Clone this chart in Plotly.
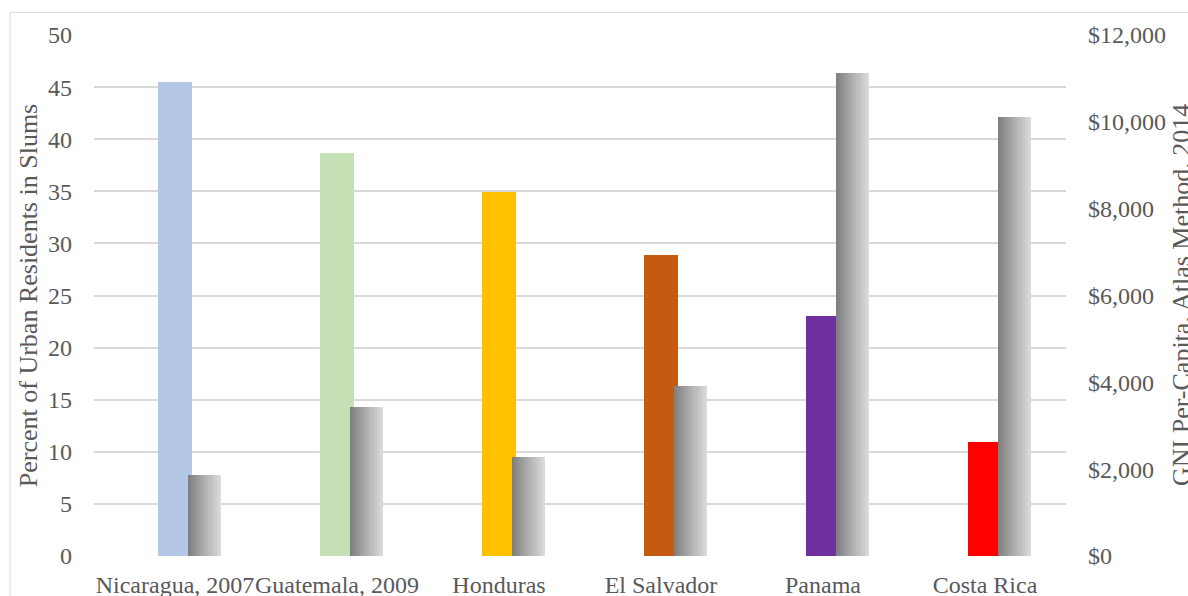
import plotly.graph_objects as go

categories = ["Nicaragua, 2007", "Guatemala, 2009", "Honduras", "El Salvador", "Panama", "Costa Rica"]
slum_pct = [45.5, 38.7, 34.9, 28.9, 23.0, 10.9]
gni_per_capita = [1870, 3430, 2270, 3920, 11130, 10120]
bar_colors = ["#B4C7E7", "#C5E0B4", "#FFC000", "#C55A11", "#7030A0", "#FF0000"]
left_ticks = [0, 5, 10, 15, 20, 25, 30, 35, 40, 45, 50]
right_ticks = [0, 2000, 4000, 6000, 8000, 10000, 12000]
right_ticktext = [f"${v:,}" for v in right_ticks]

FONT = "Liberation Serif, Times New Roman, serif"
TXT = "#595959"
TICK_SIZE = 24
TITLE_SIZE = 26

fig = go.Figure()

# coloured bars (primary axis)
fig.add_trace(go.Bar(
    x=categories, y=slum_pct, yaxis="y",
    marker=dict(color=bar_colors, line=dict(width=0)),
    offset=-0.108, width=0.215, showlegend=False,
))

# gray gradient bars (secondary axis) built from narrow slices
n = 16
g_off, g_w = 0.083, 0.198
c0, c1 = 128, 218
for j in range(n):
    t = j / (n - 1)
    v = int(round(c0 + (c1 - c0) * t))
    fig.add_trace(go.Bar(
        x=categories, y=gni_per_capita, yaxis="y2",
        marker=dict(color=f"rgb({v},{v},{v})", line=dict(width=0)),
        offset=g_off + j * g_w / n, width=g_w / n + 0.002, showlegend=False,
    ))

fig.update_layout(
    template="none",
    width=1188, height=596,
    margin=dict(l=94, r=122, t=35, b=40, pad=0),
    paper_bgcolor="white", plot_bgcolor="white",
    barmode="overlay", bargap=0,
    font=dict(family=FONT, color=TXT, size=TICK_SIZE),
    xaxis=dict(
        type="category", range=[-0.5, 5.5], showgrid=False, automargin=False,
        showline=False, zeroline=False, ticks="", tickangle=0,
        tickfont=dict(family=FONT, size=TICK_SIZE, color=TXT),
        ticklabelstandoff=12,
    ),
    yaxis=dict(
        range=[0, 50], tickvals=left_ticks, showgrid=True, automargin=False,
        gridcolor="#D9D9D9", gridwidth=1.5, zeroline=False, showline=False,
        ticks="", tickfont=dict(family=FONT, size=TICK_SIZE, color=TXT),
        ticklabelstandoff=21,
        title=dict(text="Percent of Urban Residents in Slums",
                   font=dict(family=FONT, size=TITLE_SIZE, color=TXT), standoff=2),
    ),
    yaxis2=dict(
        range=[0, 12000], tickvals=right_ticks, ticktext=right_ticktext,
        overlaying="y", side="right", automargin=False,
        showgrid=False, zeroline=False, showline=False, ticks="",
        tickfont=dict(family=FONT, size=TICK_SIZE, color=TXT),
        ticklabelstandoff=21,
    ),
    annotations=[dict(
        text="GNI Per-Capita, Atlas Method, 2014", textangle=-90,
        xref="paper", yref="paper", x=(1165 - 94) / 972, y=0.5,
        xanchor="left", yanchor="middle", showarrow=False,
        font=dict(family=FONT, size=TITLE_SIZE, color=TXT),
    )],
    shapes=[dict(
        type="rect", xref="paper", yref="paper",
        x0=-0.0864, x1=1.3, y0=-0.3, y1=1.043,
        line=dict(color="#D9D9D9", width=1), fillcolor="rgba(0,0,0,0)",
        layer="below",
    )],
)

fig.write_html(
    "out.html",
    config={"displayModeBar": False},
    post_script="document.body.style.margin='0';document.body.style.overflow='hidden';",
)
